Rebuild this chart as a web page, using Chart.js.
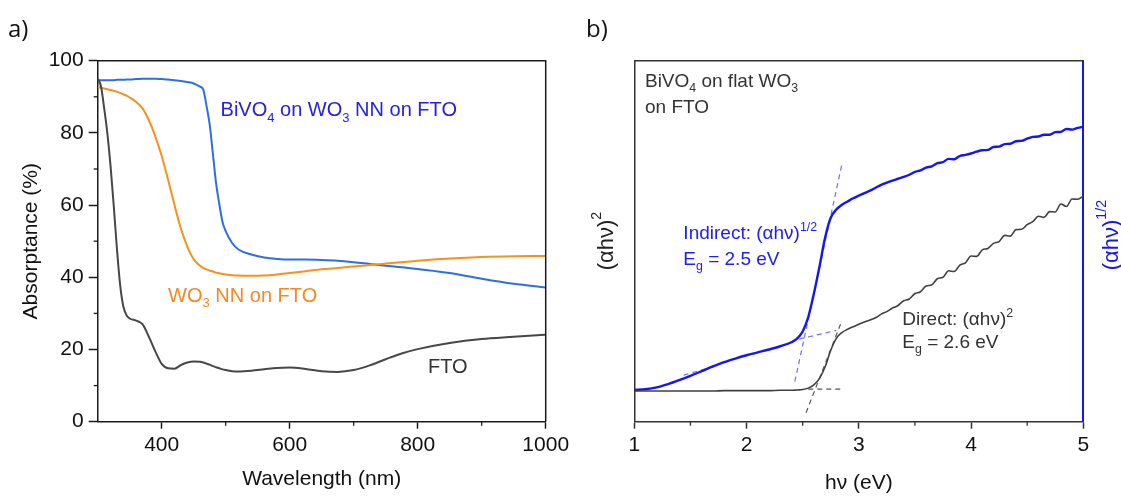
<!DOCTYPE html>
<html>
<head>
<meta charset="utf-8">
<script src="https://cdn.jsdelivr.net/npm/chart.js@4.4.1/dist/chart.umd.min.js"></script>
<style>
  html, body { margin: 0; padding: 0; background: #fff; }
  #wrap { position: relative; width: 1121px; height: 496px; overflow: hidden; }
  canvas { position: absolute; top: 0; }
  #chartA { left: 0; }
  #chartB { left: 560px; }
</style>
</head>
<body>
<div id="wrap">
  <canvas id="chartA" width="600" height="496"></canvas>
  <canvas id="chartB" width="561" height="496"></canvas>
</div>
<script>
// ---- panel a) absorptance spectra ----
const wavelength = [300, 305, 310, 315, 320, 325, 330, 335, 340, 345, 350, 360, 370, 380, 390, 400, 410, 420, 430, 440, 450,
  460, 465, 470, 475, 480, 485, 490, 495, 500, 510, 520, 540, 560, 580, 600, 625, 650, 675, 700, 725, 750, 775, 800, 850, 900, 950, 1000];
const absBiVO4 = [94.6, 94.6, 94.6, 94.6, 94.6, 94.6, 94.7, 94.7, 94.7, 94.8, 94.8, 94.9, 95.0, 95.0, 95.0, 94.9, 94.8, 94.6, 94.4, 94.1, 93.7,
  92.8, 92.0, 87.5, 82.3, 74.2, 66.0, 60.3, 55.3, 52.8, 49.5, 47.7, 46.3, 45.5, 45.1, 44.9, 44.9, 44.8, 44.6, 44.2, 43.7, 43.2, 42.8, 42.3, 41.2, 39.6, 38.2, 37.2];
const absWO3 = [92.7, 92.5, 92.3, 92.1, 91.9, 91.7, 91.4, 91.1, 90.7, 90.3, 89.8, 88.6, 86.8, 83.5, 79.0, 73.6, 67.0, 60.0, 53.5, 48.5, 45.0,
  43.2, 42.6, 42.2, 41.9, 41.6, 41.3, 41.1, 40.9, 40.8, 40.6, 40.5, 40.4, 40.5, 40.8, 41.2, 41.7, 42.2, 42.6, 43.0, 43.4, 43.8, 44.2, 44.6, 45.2, 45.6, 45.8, 45.9];
const absFTO = [95.0, 93.0, 87.0, 80.0, 71.0, 60.0, 48.0, 38.0, 32.0, 29.5, 28.6, 28.0, 27.0, 23.5, 19.5, 16.0, 14.8, 14.7, 15.7, 16.4, 16.7,
  16.6, 16.4, 16.1, 15.8, 15.4, 15.1, 14.8, 14.5, 14.3, 14.0, 13.9, 14.1, 14.5, 14.9, 15.0, 14.6, 14.0, 13.8, 14.3, 15.6, 17.3, 18.9, 20.1, 21.8, 22.9, 23.5, 24.1];
const xTicksA = [400, 600, 800, 1000];
const xMinorA = [500, 700, 900];
const yTicksA = [0, 20, 40, 60, 80, 100];
const yMinorA = [10, 30, 50, 70, 90];

// ---- panel b) Tauc plots ----
const photonEnergy = [1.00, 1.10, 1.20, 1.30, 1.40, 1.50, 1.60, 1.70, 1.80, 1.90, 2.00, 2.10, 2.20, 2.30,
  2.40, 2.45, 2.50, 2.55, 2.60, 2.65, 2.70, 2.75, 2.80, 2.85, 2.90, 2.95,
  3.00, 3.05, 3.10, 3.15, 3.20, 3.25, 3.30, 3.35, 3.40, 3.45,
  3.50, 3.55, 3.60, 3.65, 3.70, 3.75, 3.80, 3.85, 3.90, 3.95,
  4.00, 4.05, 4.10, 4.15, 4.20, 4.25, 4.30, 4.35, 4.40, 4.45,
  4.50, 4.55, 4.60, 4.65, 4.70, 4.75, 4.80, 4.85, 4.90, 4.95, 5.00];
const indirectTauc = [8.8, 9.0, 9.5, 10.4, 11.5, 12.7, 14.0, 15.3, 16.5, 17.5, 18.4, 19.2, 20.0, 20.9,
  22.0, 23.0, 25.0, 29.0, 35.5, 43.0, 51.0, 56.5, 58.8, 60.1, 61.0, 61.9,
  62.6, 63.3, 64.0, 64.8, 65.6, 66.2, 66.8, 67.3, 67.8, 68.4,
  69.2, 69.6, 70.4, 70.7, 71.6, 71.9, 72.8, 72.7, 73.6, 73.9,
  74.3, 74.8, 75.2, 75.3, 76.1, 76.2, 76.9, 77.0, 77.7, 77.8,
  78.4, 78.9, 79.0, 79.5, 79.5, 80.2, 80.3, 81.1, 80.9, 81.4, 81.7];
const directTauc = [8.5, 8.5, 8.5, 8.5, 8.5, 8.5, 8.5, 8.5, 8.6, 8.6, 8.6, 8.6, 8.6, 8.7,
  8.7, 8.8, 8.9, 9.3, 10.2, 12.0, 15.2, 19.8, 23.1, 24.7, 25.6, 26.3,
  27.0, 27.6, 28.2, 28.8, 29.8, 30.5, 31.5, 32.2, 33.5, 34.0,
  35.5, 36.0, 37.6, 37.9, 39.6, 40.0, 41.8, 41.6, 43.4, 44.0,
  45.9, 45.8, 47.6, 48.0, 49.4, 49.9, 51.6, 51.4, 53.2, 53.3,
  54.6, 55.4, 56.9, 56.6, 58.2, 58.1, 60.3, 59.6, 61.7, 61.6, 62.5];
// fitted lines (dashed)
const indirectEdgeX = [2.43, 2.85];
const indirectEdgeY = [11.1, 71.4];
const indirectBaseX = [2.47, 2.80];
const indirectBaseY = [22.9, 25.3];
const indirectLowX = [1.44, 1.72];
const indirectLowY = [12.9, 15.4];
const directEdgeX = [2.53, 2.85];
const directEdgeY = [2.5, 28.0];
const directBaseX = [2.55, 2.87];
const directBaseY = [9.0, 9.0];
const xTicksB = [1, 2, 3, 4, 5];
const xMinorB = [1.5, 2.5, 3.5, 4.5];

const FONT = "'Liberation Sans', Arial, sans-serif";
const pts = (xs, ys) => xs.map((x, i) => ({ x: x, y: ys[i] }));

// draws text made of parts [text, 'sub'|'sup'|undefined]
function richWidth(ctx, parts, size) {
  let w = 0;
  for (const [t, m] of parts) {
    ctx.font = (m ? size * 0.65 : size) + 'px ' + FONT;
    w += ctx.measureText(t).width;
  }
  return w;
}
function richText(ctx, parts, x, y, size) {
  let cx = x;
  for (const [t, m] of parts) {
    ctx.font = (m ? size * 0.65 : size) + 'px ' + FONT;
    const dy = m === 'sub' ? size * 0.28 : m === 'sup' ? -size * 0.42 : 0;
    ctx.fillText(t, cx, y + dy);
    cx += ctx.measureText(t).width;
  }
}

const decor = {
  id: 'decor',
  afterDatasetsDraw(chart, args, opts) {
    const { ctx, chartArea: a } = chart;
    ctx.save();
    // top / right frame
    ctx.lineWidth = opts.frameWidth;
    ctx.strokeStyle = opts.frameColor;
    ctx.beginPath();
    ctx.moveTo(a.left, a.top);
    ctx.lineTo(a.right, a.top);
    if (opts.rightFrame) ctx.lineTo(a.right, a.bottom);
    ctx.stroke();
    // minor ticks
    ctx.lineWidth = 1.3;
    ctx.strokeStyle = opts.frameColor;
    (opts.minorX || []).forEach(v => {
      const px = chart.scales.x.getPixelForValue(v);
      ctx.beginPath(); ctx.moveTo(px, a.bottom); ctx.lineTo(px, a.bottom + 4); ctx.stroke();
    });
    (opts.minorY || []).forEach(v => {
      const py = chart.scales.y.getPixelForValue(v);
      ctx.beginPath(); ctx.moveTo(a.left, py); ctx.lineTo(a.left - 4, py); ctx.stroke();
    });
    // annotations
    ctx.textBaseline = 'alphabetic';
    ctx.textAlign = 'left';
    (opts.notes || []).forEach(n => {
      ctx.fillStyle = n.color;
      richText(ctx, n.parts, chart.scales.x.getPixelForValue(n.x), chart.scales.y.getPixelForValue(n.y), n.size);
    });
    // rotated axis titles
    ctx.textBaseline = 'middle';
    (opts.vtitles || []).forEach(t => {
      const cx = t.side === 'left' ? a.left - t.off : a.right + t.off;
      ctx.save();
      ctx.translate(cx, t.cy);
      ctx.rotate(-Math.PI / 2);
      ctx.fillStyle = t.color;
      const w = richWidth(ctx, t.parts, t.size);
      richText(ctx, t.parts, -w / 2, 0, t.size);
      ctx.restore();
    });
    // panel letter
    ctx.textBaseline = 'alphabetic';
    ctx.fillStyle = '#111';
    ctx.font = "24px 'Open Sans', sans-serif";
    ctx.fillText(opts.letter[0], opts.letter[1], opts.letter[2]);
    ctx.restore();
  }
};

function fixedTicks(list) {
  return scale => { scale.ticks = list.map(v => ({ value: v })); };
}

// ---------- chart a ----------
new Chart(document.getElementById('chartA'), {
  type: 'line',
  data: {
    datasets: [
      { label: 'FTO', data: pts(wavelength, absFTO), borderColor: '#474747', borderWidth: 2 },
      { label: 'WO3 NN on FTO', data: pts(wavelength, absWO3), borderColor: '#f7901e', borderWidth: 2 },
      { label: 'BiVO4 on WO3 NN on FTO', data: pts(wavelength, absBiVO4), borderColor: '#2d6fe0', borderWidth: 2 }
    ]
  },
  options: {
    responsive: false,
    animation: false,
    events: [],
    layout: { padding: { top: 60.7, right: 54.3, left: 0, bottom: 0 } },
    elements: { point: { radius: 0 }, line: { cubicInterpolationMode: 'monotone' } },
    plugins: {
      legend: { display: false },
      tooltip: { enabled: false },
      decor: {
        frameColor: '#1a1a1a',
        frameWidth: 1.5,
        rightFrame: true,
        minorX: xMinorA,
        minorY: yMinorA,
        letter: ['a)', 8, 37],
        notes: [
          { x: 492, y: 84.7, size: 20, color: '#2222e0',
            parts: [['BiVO'], ['4', 'sub'], [' on WO'], ['3', 'sub'], [' NN on FTO']] },
          { x: 410, y: 33.2, size: 20, color: '#f5891f',
            parts: [['WO'], ['3', 'sub'], [' NN on FTO']] },
          { x: 816, y: 13.5, size: 20, color: '#333333', parts: [['FTO']] }
        ]
      }
    },
    scales: {
      x: {
        type: 'linear',
        min: 300,
        max: 1000,
        afterBuildTicks: fixedTicks(xTicksA),
        afterFit: s => { s.height = 74.3; s.paddingLeft = 0; s.paddingRight = 0; },
        border: { color: '#1a1a1a', width: 1.5 },
        grid: { drawOnChartArea: false, tickLength: 7, tickColor: '#1a1a1a', tickWidth: 1.5 },
        ticks: { color: '#111', font: { family: FONT, size: 21 }, padding: 4, maxRotation: 0, autoSkip: false,
          callback: v => String(v) },
        title: { display: true, text: 'Wavelength (nm)', color: '#111', font: { family: FONT, size: 21 },
          padding: { top: 0, bottom: 4 } }
      },
      y: {
        min: 0,
        max: 100,
        afterBuildTicks: fixedTicks(yTicksA),
        afterFit: s => { s.width = 97.7; s.paddingTop = 0; s.paddingBottom = 0; },
        border: { color: '#1a1a1a', width: 1.5 },
        grid: { drawOnChartArea: false, tickLength: 9, tickColor: '#1a1a1a', tickWidth: 1.5 },
        ticks: { color: '#111', font: { family: FONT, size: 21 }, padding: 5, callback: v => String(v) },
        title: { display: true, text: 'Absorptance (%)', color: '#111', font: { family: FONT, size: 21 },
          padding: { top: 18.4, bottom: 0 } }
      }
    }
  },
  plugins: [decor]
});

// ---------- chart b ----------
const dashed = (xs, ys, color, axis) => ({
  data: pts(xs, ys), borderColor: color, borderWidth: 1.2, borderDash: [5, 4], yAxisID: axis, cubicInterpolationMode: 'default'
});

new Chart(document.getElementById('chartB'), {
  type: 'line',
  data: {
    datasets: [
      { label: 'Direct', data: pts(photonEnergy, directTauc), borderColor: '#404040', borderWidth: 1.6, yAxisID: 'y' },
      { label: 'Indirect', data: pts(photonEnergy, indirectTauc), borderColor: '#1515ee', borderWidth: 2.4, yAxisID: 'y2' },
      dashed(indirectEdgeX, indirectEdgeY, '#6f6ff0', 'y2'),
      dashed(indirectBaseX, indirectBaseY, '#6f6ff0', 'y2'),
      dashed(indirectLowX, indirectLowY, '#6f6ff0', 'y2'),
      dashed(directEdgeX, directEdgeY, '#555555', 'y'),
      dashed(directBaseX, directBaseY, '#555555', 'y')
    ]
  },
  options: {
    responsive: false,
    animation: false,
    events: [],
    layout: { padding: { top: 60.7, right: 0, left: 0, bottom: 0 } },
    elements: { point: { radius: 0 }, line: { cubicInterpolationMode: 'monotone' } },
    plugins: {
      legend: { display: false },
      tooltip: { enabled: false },
      decor: {
        frameColor: '#333333',
        frameWidth: 1.5,
        rightFrame: false,
        minorX: xMinorB,
        letter: ['b)', 26, 37],
        notes: [
          { x: 1.095, y: 92.8, size: 19, color: '#333333',
            parts: [['BiVO'], ['4', 'sub'], [' on flat WO'], ['3', 'sub']] },
          { x: 1.095, y: 85.6, size: 19, color: '#333333', parts: [['on FTO']] },
          { x: 1.437, y: 50.6, size: 19, color: '#2020ee',
            parts: [['Indirect: (\u03b1h\u03bd)'], ['1/2', 'sup']] },
          { x: 1.437, y: 43.4, size: 19, color: '#2020ee',
            parts: [['E'], ['g', 'sub'], [' = 2.5 eV']] },
          { x: 3.388, y: 26.8, size: 19, color: '#333333',
            parts: [['Direct: (\u03b1h\u03bd)'], ['2', 'sup']] },
          { x: 3.388, y: 20.5, size: 19, color: '#333333',
            parts: [['E'], ['g', 'sub'], [' = 2.6 eV']] }
        ],
        vtitles: [
          { side: 'left', off: 27.6, cy: 241, size: 22, color: '#222222',
            parts: [['(\u03b1h\u03bd)'], ['2', 'sup']] },
          { side: 'right', off: 28.4, cy: 235, size: 22, color: '#1515ee',
            parts: [['(\u03b1h\u03bd)'], ['1/2', 'sup']] }
        ]
      }
    },
    scales: {
      x: {
        type: 'linear',
        min: 1,
        max: 5,
        afterBuildTicks: fixedTicks(xTicksB),
        afterFit: s => { s.height = 74.3; s.paddingLeft = 0; s.paddingRight = 0; },
        border: { color: '#333333', width: 1.5 },
        grid: { drawOnChartArea: false, tickLength: 7, tickColor: '#333333', tickWidth: 1.5 },
        ticks: { color: '#111', font: { family: FONT, size: 21 }, padding: 4, maxRotation: 0, autoSkip: false,
          callback: v => String(v) },
        title: { display: true, text: 'h\u03bd (eV)', color: '#111', font: { family: FONT, size: 21 },
          padding: { top: 0, bottom: 0 } }
      },
      y: {
        min: 0,
        max: 100,
        position: 'left',
        afterFit: s => { s.width = 74.3; s.paddingTop = 0; s.paddingBottom = 0; },
        border: { color: '#333333', width: 1.5 },
        grid: { display: true, drawOnChartArea: false, drawTicks: false },
        ticks: { display: false }
      },
      y2: {
        min: 0,
        max: 100,
        position: 'right',
        afterFit: s => { s.width = 37.7; s.paddingTop = 0; s.paddingBottom = 0; },
        border: { color: '#1515ee', width: 2 },
        grid: { display: true, drawOnChartArea: false, drawTicks: false },
        ticks: { display: false }
      }
    }
  },
  plugins: [decor]
});
</script>
</body>
</html>
